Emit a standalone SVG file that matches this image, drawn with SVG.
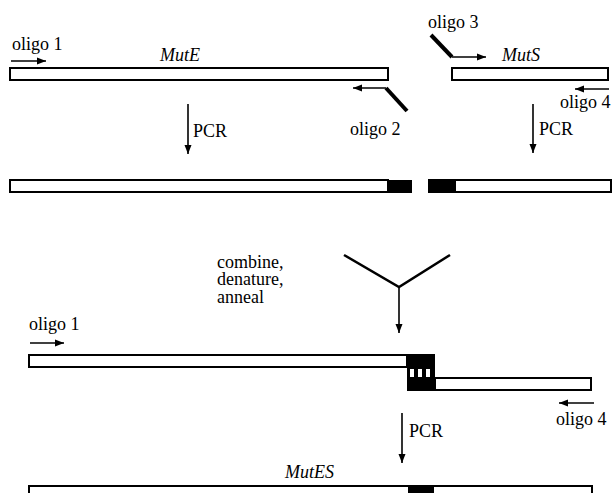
<svg xmlns="http://www.w3.org/2000/svg" width="613" height="493" viewBox="0 0 613 493">
<style>
.t{font-family:'Liberation Serif','DejaVu Serif','Times New Roman',serif;font-size:18px;fill:#000}
.i{font-style:italic}
.bar{fill:#fff;stroke:#000;stroke-width:2}
.blk{fill:#000;stroke:none}
.wht{fill:#fff;stroke:none}
.ln{stroke:#000;stroke-width:1.6;fill:none}
.thick{stroke:#000;stroke-width:4;fill:none}
</style>
<defs>
<marker id="ah" markerUnits="userSpaceOnUse" markerWidth="9" markerHeight="8" viewBox="0 0 9 8" refX="9" refY="4" orient="auto">
<path d="M0,0.5 L9,4 L0,7.5 Z" fill="#000"/>
</marker>
</defs>
<rect width="613" height="493" fill="#fff"/>

<g font-family="Liberation Serif, DejaVu Serif, serif">
<g id="mutE">
<rect class="bar" x="10" y="68" width="378" height="12"/>
<text class="t i" x="160" y="61" font-family="Liberation Serif, serif">MutE</text>
</g>
<g id="mutS">
<rect class="bar" x="452" y="68" width="156" height="12"/>
<text class="t i" x="502" y="61" font-family="Liberation Serif, serif">MutS</text>
</g>
<g id="oligo1-top">
<text class="t" x="12" y="50" font-family="Liberation Serif, serif">oligo 1</text>
</g>
<g id="oligo2">
<line class="thick" x1="386" y1="88" x2="407" y2="111"/>
<text class="t" x="350" y="135" font-family="Liberation Serif, serif">oligo 2</text>
</g>
<g id="oligo3">
<text class="t" x="428" y="28" font-family="Liberation Serif, serif">oligo 3</text>
<line class="thick" x1="431" y1="35" x2="452" y2="57"/>
</g>
<g id="oligo4-top">
<text class="t" x="560" y="108" font-family="Liberation Serif, serif">oligo 4</text>
</g>
<g id="pcr1"><text class="t" x="193" y="137" font-family="Liberation Serif, serif">PCR</text></g>
<g id="pcr2"><text class="t" x="539" y="135" font-family="Liberation Serif, serif">PCR</text></g>

<g id="mutE-pcr">
<rect class="bar" x="10" y="180" width="378" height="12"/>
<rect class="blk" x="388" y="180" width="24" height="13"/>
</g>
<g id="mutS-pcr">
<rect class="blk" x="428" y="179" width="27" height="14"/>
<rect class="bar" x="455" y="180" width="156" height="12"/>
</g>

<g id="combine">
<text class="t" x="217" y="268" font-family="Liberation Serif, serif">combine,</text>
<text class="t" x="217" y="285" font-family="Liberation Serif, serif">denature,</text>
<text class="t" x="217" y="303" font-family="Liberation Serif, serif">anneal</text>
</g>

<g id="heteroduplex">
<rect class="bar" x="29" y="355" width="378" height="12"/>
<rect class="bar" x="435" y="378" width="156" height="12"/>
<rect class="blk" x="407" y="354" width="28" height="37"/>
<rect class="wht" x="410" y="369" width="4" height="8"/>
<rect class="wht" x="418" y="369" width="4" height="8"/>
<rect class="wht" x="426" y="369" width="4" height="8"/>
</g>
<g id="oligo1-bottom"><text class="t" x="29" y="330" font-family="Liberation Serif, serif">oligo 1</text></g>
<g id="oligo4-bottom"><text class="t" x="556" y="425" font-family="Liberation Serif, serif">oligo 4</text></g>
<g id="pcr3"><text class="t" x="409" y="437" font-family="Liberation Serif, serif">PCR</text></g>

<g id="mutES">
<text class="t i" x="285" y="478" font-family="Liberation Serif, serif">MutES</text>
<rect class="bar" x="29" y="486" width="563" height="20"/>
<rect class="blk" x="408" y="486" width="26" height="10"/>
</g>
</g>

<g id="connectors">
<line class="ln" x1="11" y1="61" x2="46" y2="61" marker-end="url(#ah)"/>
<line class="ln" x1="386" y1="88" x2="353" y2="88" marker-end="url(#ah)"/>
<line class="ln" x1="452" y1="57" x2="486" y2="57" marker-end="url(#ah)"/>
<line class="ln" x1="609" y1="89" x2="575" y2="89" marker-end="url(#ah)"/>
<line class="ln" x1="188" y1="104" x2="188" y2="154" marker-end="url(#ah)"/>
<line class="ln" x1="533" y1="104" x2="533" y2="153" marker-end="url(#ah)"/>
<polyline points="344,255 399,287 450,255" fill="none" stroke="#000" stroke-width="2.5"/>
<line class="ln" x1="399" y1="286" x2="399" y2="333" marker-end="url(#ah)"/>
<line class="ln" x1="30" y1="343" x2="64" y2="343" marker-end="url(#ah)"/>
<line class="ln" x1="594" y1="403" x2="559" y2="403" marker-end="url(#ah)"/>
<line class="ln" x1="402" y1="413" x2="402" y2="463" marker-end="url(#ah)"/>
</g>
</svg>
